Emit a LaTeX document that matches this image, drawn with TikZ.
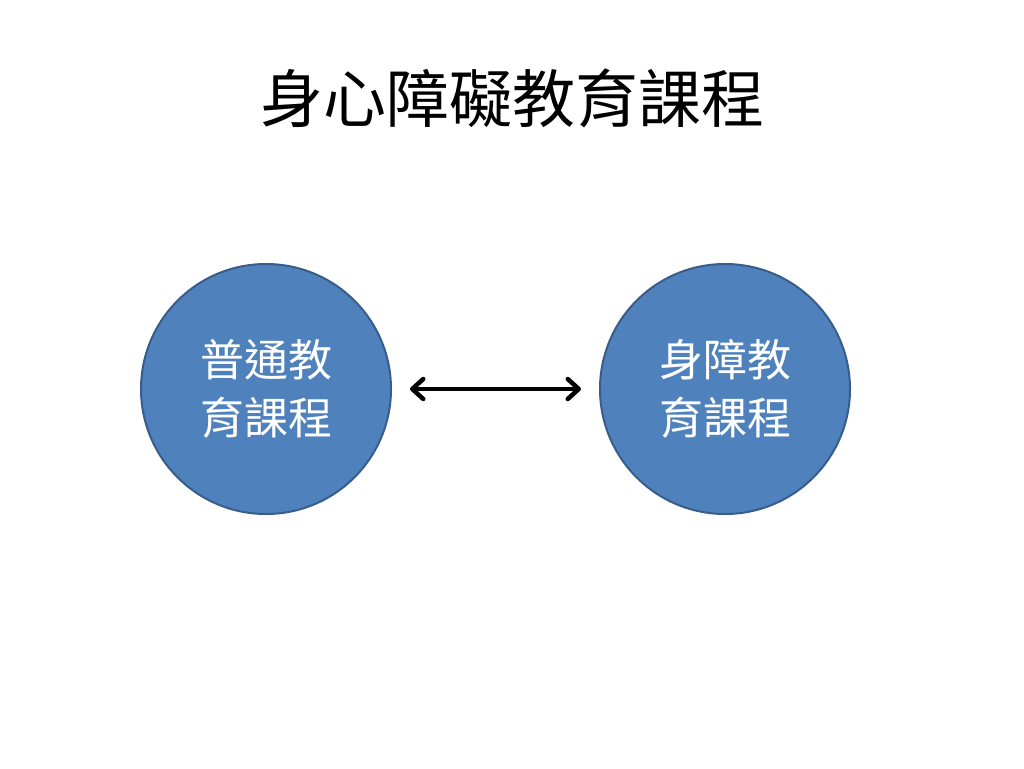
\documentclass[tikz,border=0pt]{standalone}
\usepackage{fontspec}
\newfontfamily\cjk{Noto Sans CJK TC}
\usetikzlibrary{arrows.meta}
\definecolor{cfill}{HTML}{4F81BD}
\definecolor{cdraw}{HTML}{385D8A}
\tikzset{
  bubble/.style={circle, fill=cfill, draw=cdraw, line width=2pt, minimum size=250pt, inner sep=0pt,
    text=white, font=\cjk\fontsize{44}{58}\selectfont, align=center},
  link/.style={line width=4.5pt, {Straight Barb[length=11pt,width=20pt,line cap=round,line join=round]}-{Straight Barb[length=11pt,width=20pt,line cap=round,line join=round]}, line cap=round}
}
\begin{document}
\begin{tikzpicture}[x=1pt,y=-1pt]
\useasboundingbox[fill=white] (0,0) rectangle (1024,768);
\node[font=\cjk\fontsize{63}{72}\selectfont] (title) at (512,98) {身心障礙教育課程};
\node[bubble] (a) at (266,389) {普通教\\育課程};
\node[bubble] (b) at (725,389) {身障教\\育課程};
\draw[link] ([xshift=18pt]a.east) -- ([xshift=-18pt]b.west);
\end{tikzpicture}
\end{document}
